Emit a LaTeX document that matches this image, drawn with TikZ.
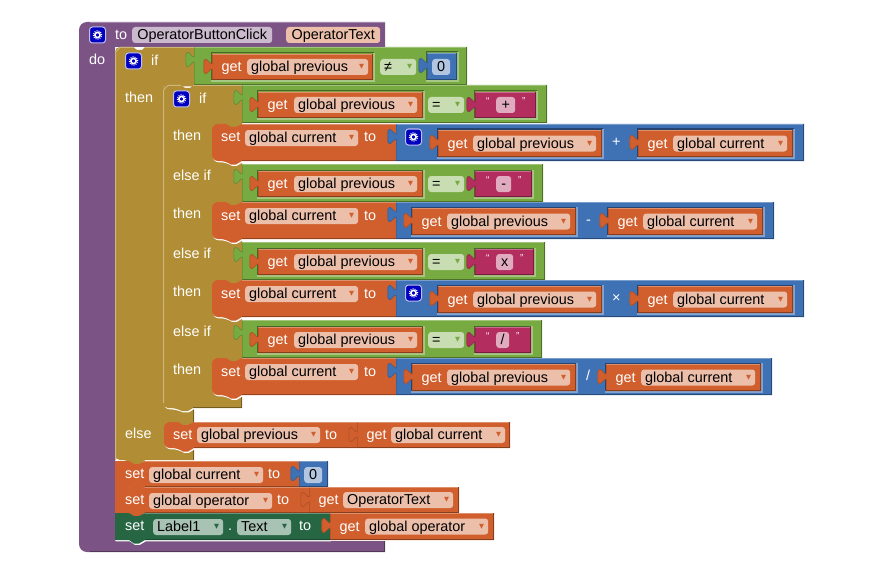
\documentclass[tikz,border=0pt]{standalone}
\usepackage{fontspec}
\setmainfont{Liberation Sans}
\newfontfamily\symfont{DejaVu Sans}

\definecolor{procPurple}{HTML}{7C5385}
\definecolor{ctrlGold}{HTML}{B18E35}
\definecolor{logicGreen}{HTML}{77AB41}
\definecolor{mathBlue}{HTML}{3F71B5}
\definecolor{varOrange}{HTML}{D05F2D}
\definecolor{textPink}{HTML}{B32D5E}
\definecolor{compGreen}{HTML}{266643}
\definecolor{gearBlue}{HTML}{0000C0}

% Block outlines
\newcommand{\tabedge}[2]{-- (#1,#2+15) .. controls (#1-3,#2+15) and (#1-3,#2+19) .. (#1-6,#2+19.5) .. controls (#1-8.5,#2+20) and (#1-8.5,#2+17) .. (#1-8.5,#2+12.5) .. controls (#1-8.5,#2+8) and (#1-8.5,#2+5) .. (#1-6,#2+5.5) .. controls (#1-3,#2+6) and (#1-3,#2+10) .. (#1,#2+10)}
\newcommand{\stmtpath}[5]{(#3,#2) -- (#1+30,#2) -- (#1+24,#2+3) -- (#1+19,#2+3) -- (#1+14,#2) [rounded corners=#5pt] -- (#1,#2) -- (#1,#4) -- (#1+14,#4) [sharp corners] -- (#1+19,#4+3.5) -- (#1+24,#4+3.5) -- (#1+30,#4) -- (#3,#4) -- cycle}
\newcommand{\valblock}[5]{%
  \fill[#5] (#1,#2) -- (#3,#2) -- (#3,#4) -- (#1,#4) \tabedge{#1}{#2} -- cycle;
  \draw[#5!70!white,edge] (#1,#2+.5) -- (#3,#2+.5);
  \draw[#5!65!black,edge] (#3-.5,#2) -- (#3-.5,#4-.5) -- (#1,#4-.5);
  \draw[#5!82!black,line width=.6pt] (#1+.3,#4-.5) \tabedge{#1+.3}{#2} -- (#1+.3,#2+.5);}
\newcommand{\inset}[5]{%
  \draw[#5!60!black,edge] (#1-1,#4) -- (#1-1,#2-1) -- (#3+1,#2-1);
  \draw[#5!65!white,line width=1.5pt] (#3+1,#2-1) -- (#3+1,#4+1) -- (#1-1,#4+1);}
\newcommand{\stmtblock}[6]{%
  \fill[white,shift={(0.8,1.3)}] \stmtpath{#1}{#2}{#3}{#4}{#6};
  \fill[#5] \stmtpath{#1}{#2}{#3}{#4}{#6};
  \draw[#5!70!white,edge] (#1+30,#2+.5) -- (#3,#2+.5);
  \draw[#5!70!black,edge] (#1+30,#4-.5) -- (#3,#4-.5);}

% Text fields
\newcommand{\dropmark}[1]{\textcolor{#1}{\raisebox{3pt}{\symfont\fontsize{6.5}{7}\selectfont ▼}}}
\newcommand{\varpill}[6]{%
  \pgfmathsetlengthmacro{\pillw}{#3-#2-8}
  \node[pill,fill=#5!40!white] (#1) at (#2,#4) {\hbox to \pillw{#6\hfill\dropmark{#5}}};}
\newcommand{\namepill}[6]{%
  \pgfmathsetlengthmacro{\pillw}{#3-#2-8}
  \node[pill,fill=#5!40!white] (#1) at (#2,#4) {\hbox to \pillw{\hfill#6\hfill}};}
\newcommand{\getblock}[8]{%
  \pgfmathsetmacro{\gety}{(#3+#5)/2}
  \valblock{#2}{#3}{#4}{#5}{varOrange}
  \node[word] (#1get) at (#2+9.5,\gety) {get};
  \varpill{#1var}{#6}{#7}{\gety}{varOrange}{#8}}

\begin{document}
\begin{tikzpicture}[x=1pt,y=-1pt,every node/.style={font=\fontsize{14.4}{16}\selectfont}]
\tikzstyle{edge} = [line width=1pt]
\tikzstyle{word} = [anchor=west, text=white, inner sep=0pt, text height=11.5pt, text depth=2.5pt]
\tikzstyle{pill} = [anchor=west, rounded corners=3pt, text=black, inner xsep=4pt, inner ysep=1pt, text height=11.5pt, text depth=2.5pt]
\tikzstyle{gear} = [anchor=west, rectangle, rounded corners=3pt, fill=gearBlue, draw=white!75!gearBlue, line width=1pt, minimum size=16pt, inner sep=0pt,
    path picture={\draw[white,line width=1.6pt] (path picture bounding box.center) circle (2.6pt);
      \draw[white,line width=1pt,dash pattern=on 1pt off 1.2pt] (path picture bounding box.center) circle (4.3pt);}]
\useasboundingbox (0,0) rectangle (880,575);

% Procedure frame
\fill[procPurple] (385,22) [rounded corners=8pt] -- (79,22) -- (79,552) [sharp corners] -- (385,552) -- (385,541) -- (115,541) -- (115,47) -- (385,47) -- cycle;
\draw[procPurple!70!white,edge] (385,22.5) -- (90,22.5);
\draw[procPurple!65!black,edge] (384.5,541) -- (384.5,551.5) -- (90,551.5);
\node[gear] (procGear) at (89,35) {};
\node[word] (procTo) at (115,35) {to};
\namepill{procName}{132}{272}{35}{procPurple}{OperatorButtonClick}
\namepill{procArg}{286}{380}{35}{varOrange}{OperatorText}
\node[word] (procDo) at (89,60) {do};

% Outer if
\fill[white,shift={(0.8,1.3)}] (194,47) -- (115,47) -- (115,460) -- (127,460) -- (134,465) -- (140,465) -- (145,460) -- (194,460) -- cycle;
\fill[ctrlGold] (194,47) -- (145,47) -- (142,50) -- (137,50) -- (133,47) [rounded corners=5pt] -- (115,47) -- (115,460) -- (127,460) [sharp corners] -- (134,465) -- (140,465) -- (145,460) -- (194,460) -- cycle;
\draw[ctrlGold!65!white,edge] (133,47.5) -- (120,47.5) -- (115.5,52) -- (115.5,460);
\draw[ctrlGold!65!white,edge] (145,47.5) -- (194,47.5);
\draw[ctrlGold!65!black,edge] (193.5,408) -- (193.5,422);
\draw[ctrlGold!65!black,edge] (193.5,448) -- (193.5,460);
\node[gear] (outerGear) at (125,61) {};
\node[word] (outerIf) at (151,61) {if};
\node[word] (outerThen) at (125,98) {then};
\node[word] (outerElse) at (125,434) {else};

% Outer test
\valblock{194}{47}{467}{85}{logicGreen}
\inset{212}{54}{373}{80}{logicGreen}
\getblock{testZero}{212}{54}{373}{80}{247}{368}{global previous}
\varpill{testZeroOp}{380}{416}{67}{logicGreen}{≠}
\inset{427}{53}{457}{80}{logicGreen}
\valblock{427}{53}{457}{80}{mathBlue}
\namepill{testZeroNum}{432}{450}{67}{mathBlue}{0}

% Inner if
\fill[white,shift={(0.8,1.3)}] (242,85) -- (163,85) [rounded corners=6pt] -- (163,408) -- (175,408) [sharp corners] -- (182,411) -- (188,411) -- (193,408) -- (242,408) -- cycle;
\fill[ctrlGold] (242,85) -- (193,85) -- (190,88) -- (185,88) -- (181,85) [rounded corners=5pt] -- (163,85) -- (163,408) -- (175,408) [sharp corners] -- (182,411) -- (188,411) -- (193,408) -- (242,408) -- cycle;
\draw[ctrlGold!65!white,edge] (181,85.5) -- (168,85.5) -- (163.5,90) -- (163.5,403);
\draw[ctrlGold!65!white,edge] (193,85.5) -- (242,85.5);
\draw[ctrlGold!65!black,edge] (193,407.5) -- (241.5,407.5) -- (241.5,396);
\node[gear] (innerGear) at (173,99) {};
\node[word] (innerIf) at (199,99) {if};
\node[word] (innerThenA) at (173,136) {then};
\node[word] (innerElifA) at (173,176) {else if};
\node[word] (innerThenB) at (173,214) {then};
\node[word] (innerElifB) at (173,254) {else if};
\node[word] (innerThenC) at (173,292) {then};
\node[word] (innerElifC) at (173,332) {else if};
\node[word] (innerThenD) at (173,370) {then};

% Inner tests
\foreach \ty/\gr/\sr/\pr/\qu/\sym/\nm in {85/547/536/515/522/+/Plus, 164/543/532/511/518/-/Minus, 242/545/534/513/520/x/Times, 320/542/531/509/516/{/}/Div}{
  \valblock{242}{\ty}{\gr}{\ty+38}{logicGreen}
  \inset{258}{\ty+7}{423}{\ty+33}{logicGreen}
  \getblock{test\nm}{258}{\ty+7}{423}{\ty+33}{294}{417}{global previous}
  \varpill{test\nm Op}{428}{464}{\ty+20}{logicGreen}{=}
  \inset{475}{\ty+7}{\sr}{\ty+33}{logicGreen}
  \valblock{475}{\ty+7}{\sr}{\ty+33}{textPink}
  \namepill{test\nm Str}{496}{\pr}{\ty+20}{textPink}{\sym}
  \node[word,font=\fontsize{10}{10}\selectfont] (test\nm Open) at (486,\ty+15) {“};
  \node[word,font=\fontsize{10}{10}\selectfont] (test\nm Close) at (\qu,\ty+15) {”};
}

% Set current rows
\foreach \ty/\nm in {124/Plus, 202/Minus, 280/Times, 358/Div}{
  \stmtblock{212}{\ty}{396}{\ty+37}{varOrange}{6}
  \node[word] (set\nm) at (221,\ty+13.5) {set};
  \varpill{set\nm Var}{245}{358}{\ty+14}{varOrange}{global current}
  \node[word] (set\nm To) at (364,\ty+13.5) {to};
}

% Sums with a gear
\foreach \ty/\nm/\sym in {124/Plus/+, 280/Times/×}{
  \valblock{396}{\ty}{804}{\ty+37}{mathBlue}
  \node[gear] (calc\nm Gear) at (405,\ty+13) {};
  \inset{438}{\ty+6}{602}{\ty+33}{mathBlue}
  \getblock{calc\nm A}{438}{\ty+6}{602}{\ty+33}{473}{596}{global previous}
  \node[word] (calc\nm Op) at (612,\ty+18) {\sym};
  \inset{638}{\ty+6}{793}{\ty+33}{mathBlue}
  \getblock{calc\nm B}{638}{\ty+6}{793}{\ty+33}{673}{787}{global current}
}

% Differences without a gear
\foreach \ty/\nm/\sym/\rr/\bl/\br/\pl/\prr/\ox in {202/Minus/-/774/608/763/643/757/586, 358/Div/{/}/772/606/761/641/755/586}{
  \valblock{396}{\ty}{\rr}{\ty+37}{mathBlue}
  \inset{412}{\ty+6}{576}{\ty+33}{mathBlue}
  \getblock{calc\nm A}{412}{\ty+6}{576}{\ty+33}{447}{570}{global previous}
  \node[word] (calc\nm Op) at (\ox,\ty+18) {\sym};
  \inset{\bl}{\ty+6}{\br}{\ty+33}{mathBlue}
  \getblock{calc\nm B}{\bl}{\ty+6}{\br}{\ty+33}{\pl}{\prr}{global current}
}

% Else row
\stmtblock{164}{422}{357}{448}{varOrange}{6}
\node[word] (elseSet) at (173,435) {set};
\varpill{elseVar}{197}{320}{435}{varOrange}{global previous}
\node[word] (elseTo) at (325,435) {to};
\getblock{elseGet}{357}{422}{510}{448}{391}{505}{global current}

% Last three rows
\stmtblock{115}{461}{299}{487}{varOrange}{.1}
\node[word] (lastSetA) at (125,474) {set};
\varpill{lastVarA}{149}{263}{475}{varOrange}{global current}
\node[word] (lastToA) at (268,474) {to};
\valblock{299}{461}{328}{487}{mathBlue}
\namepill{lastNum}{304}{322}{475}{mathBlue}{0}

\stmtblock{115}{487}{309}{513}{varOrange}{.1}
\node[word] (lastSetB) at (125,500) {set};
\varpill{lastVarB}{149}{272}{501}{varOrange}{global operator}
\node[word] (lastToB) at (277,500) {to};
\getblock{lastGetB}{309}{487}{459}{513}{343}{453}{OperatorText}

\stmtblock{115}{513}{330}{540}{compGreen}{.1}
\node[word] (lastSetC) at (125,526) {set};
\varpill{lastLabel}{153}{223}{527}{compGreen}{Label1}
\node[word] (lastDot) at (228,526) {.};
\varpill{lastProp}{237}{291}{527}{compGreen}{Text}
\node[word] (lastToC) at (299,526) {to};
\getblock{lastGetC}{330}{513}{494}{540}{365}{488}{global operator}

\end{tikzpicture}
\end{document}
